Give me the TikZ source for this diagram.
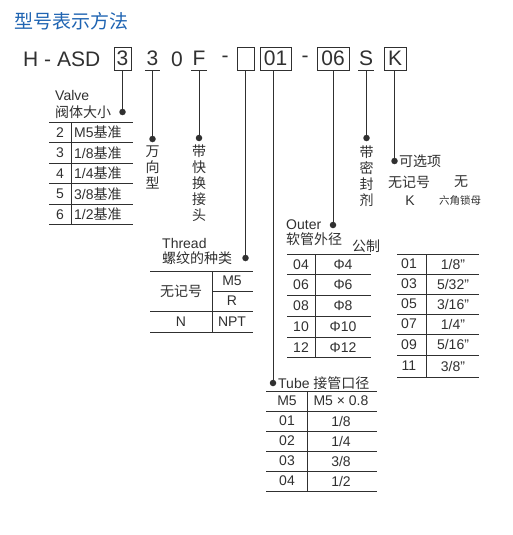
\documentclass[tikz,border=0pt]{standalone}
\usepackage{fontspec}
\setmainfont{Liberation Sans}
\newfontfamily\cjk{Noto Sans CJK SC}
\definecolor{tc}{HTML}{303030}
\definecolor{titleblue}{HTML}{1F64B2}
\begin{document}
\begin{tikzpicture}[x=1pt,y=-1pt,
  every node/.style={inner sep=0pt, text=tc},
  rule/.style={draw=tc, line width=0.8pt},
  blob/.style={circle, fill=tc, minimum size=6.5pt, inner sep=0pt},
  codefont/.style={font=\fontsize{21}{21}\selectfont},
  codebox/.style={draw=tc, line width=0.8pt, minimum height=23pt, codefont},
  ulchar/.style={minimum height=23pt, minimum width=15pt, codefont},
  cell/.style={font=\fontsize{14}{14}\selectfont},
  zh/.style={font=\cjk\fontsize{14}{14}\selectfont},
  vtext/.style={align=center, font=\cjk\fontsize{14}{16}\selectfont},
]
\useasboundingbox (0,0) rectangle (513,535);

% title
\node[anchor=west, font=\cjk\fontsize{19}{19}\selectfont, text=titleblue] (title) at (14,21.5) {型号表示方法};

% code line
\node[anchor=west, codefont] (hasd) at (23,59) {H - ASD};
\node[codebox, minimum width=17pt] (bA) at (122.5,58.5) {3};
\node[ulchar] (uB) at (152.5,58.5) {3};
\node[codefont] (cZ) at (177,59) {0};
\node[ulchar] (uF) at (199,58.5) {F};
\node[codefont] (cD1) at (225,59) {-};
\node[codebox, minimum width=17pt] (bE) at (245.5,58.5) {};
\node[codebox, minimum width=31pt] (bT) at (275.5,58.5) {01};
\node[codefont] (cD2) at (305,59) {-};
\node[codebox, minimum width=32pt] (bO) at (333,58.5) {06};
\node[ulchar] (uS) at (366,58.5) {S};
\node[codebox, minimum width=22pt] (bK) at (395,58.5) {K};
\foreach \u in {uB,uF,uS}{\draw[rule] (\u.south west) -- (\u.south east);}

% dots
\node[blob] (dV) at (122.5,112) {};
\node[blob] (dU) at (152.5,139) {};
\node[blob] (dF) at (199,138) {};
\node[blob] (dTh) at (245.5,258) {};
\node[blob] (dTu) at (273,383) {};
\node[blob] (dO) at (333,225) {};
\node[blob] (dS) at (366.5,138) {};
\node[blob] (dK) at (394.5,161) {};

% connectors
\draw[rule] (bA.south) -- (dV);
\draw[rule] (uB.south) -- (dU);
\draw[rule] (uF.south) -- (dF);
\draw[rule] (bE.south) -- (dTh);
\draw[rule] (dTu) -- (dTu |- bT.south);
\draw[rule] (bO.south) -- (dO);
\draw[rule] (dS) -- (dS |- uS.south);
\draw[rule] (dK) -- (dK |- bK.south);

% Valve table
\node[anchor=west, cell] (valve) at (55,95) {Valve};
\node[anchor=west, zh] (valvezh) at (55,112) {阀体大小};
\foreach \y in {122,142.5,163,183.5,204,224.5}{\draw[rule] (49,\y) -- (133,\y);}
\draw[rule] (71,122) -- (71,224.5);
\foreach \n/\t [count=\i from 0] in {2/M5,3/1\slash 8,4/1\slash 4,5/3\slash 8,6/1\slash 2}{
  \node[cell] (vn\i) at (60,132.25+20.5*\i) {\n};
  \node[cell, anchor=west] (vt\i) at (74,132.25+20.5*\i) {\t{\cjk 基准}};
}

% vertical labels
\node[vtext] (tU) at (152.5,167) {万\\向\\型};
\node[vtext] (tF) at (199,183) {带\\快\\换\\接\\头};
\node[vtext] (tS) at (366.5,176) {带\\密\\封\\剂};

% optional
\node[anchor=west, zh] (opt) at (399,161) {可选项};
\node[zh] (optA) at (409,182) {无记号};
\node[zh] (optB) at (461,182) {无};
\node[cell] (optC) at (410,201) {K};
\node[font=\cjk\fontsize{10.5}{10.5}\selectfont] (optD) at (460,201) {六角锁母};

% Thread table
\node[anchor=west, cell] (thr) at (162,243) {Thread};
\node[anchor=west, zh] (thrzh) at (162,258) {螺纹的种类};
\foreach \y in {271,311,332}{\draw[rule] (150,\y) -- (253,\y);}
\draw[rule] (212,291) -- (253,291);
\draw[rule] (212,271) -- (212,332);
\node[zh] (th1) at (181,291) {无记号};
\node[cell] (th2) at (232,281) {M5};
\node[cell] (th3) at (232,301) {R};
\node[cell] (th4) at (181,321.5) {N};
\node[cell] (th5) at (232,321.5) {NPT};

% Outer table
\node[anchor=west, cell] (out) at (286,225) {Outer};
\node[anchor=west, zh] (outzh) at (286,239) {软管外径};
\node[anchor=west, zh] (metric) at (352,246) {公制};
\foreach \y in {254,274.75,295.5,316.25,337,357.75}{\draw[rule] (287,\y) -- (371,\y);}
\draw[rule] (315,254) -- (315,357.75);
\foreach \n/\t [count=\i from 0] in {04/4,06/6,08/8,10/10,12/12}{
  \node[cell] (on\i) at (301,264.4+20.75*\i) {\n};
  \node[cell] (ot\i) at (343,264.4+20.75*\i) {Φ\t};
}

% inch table
\foreach \y in {254,274,294,314,334,355,377}{\draw[rule] (397,\y) -- (479,\y);}
\draw[rule] (426,254) -- (426,377);
\foreach \n/\t/\y [count=\i from 0] in {01/1\slash 8/264,03/5\slash 32/284,05/3\slash 16/304,07/1\slash 4/324,09/5\slash 16/344.5,11/3\slash 8/366}{
  \node[cell] (in\i) at (409,\y) {\n};
  \node[cell] (it\i) at (453,\y) {\t\char34};
}

% Tube table
\node[anchor=west, cell] (tube) at (278,383) {Tube {\cjk 接管口径}};
\foreach \y in {391,411,431,451,471,491}{\draw[rule] (266,\y) -- (377,\y);}
\draw[rule] (307,391) -- (307,491);
\foreach \n/\t [count=\i from 0] in {M5/M5 × 0.8,01/1\slash 8,02/1\slash 4,03/3\slash 8,04/1\slash 2}{
  \node[cell] (tn\i) at (287,401+20*\i) {\n};
  \node[cell] (tt\i) at (341,401+20*\i) {\t};
}
\end{tikzpicture}
\end{document}
